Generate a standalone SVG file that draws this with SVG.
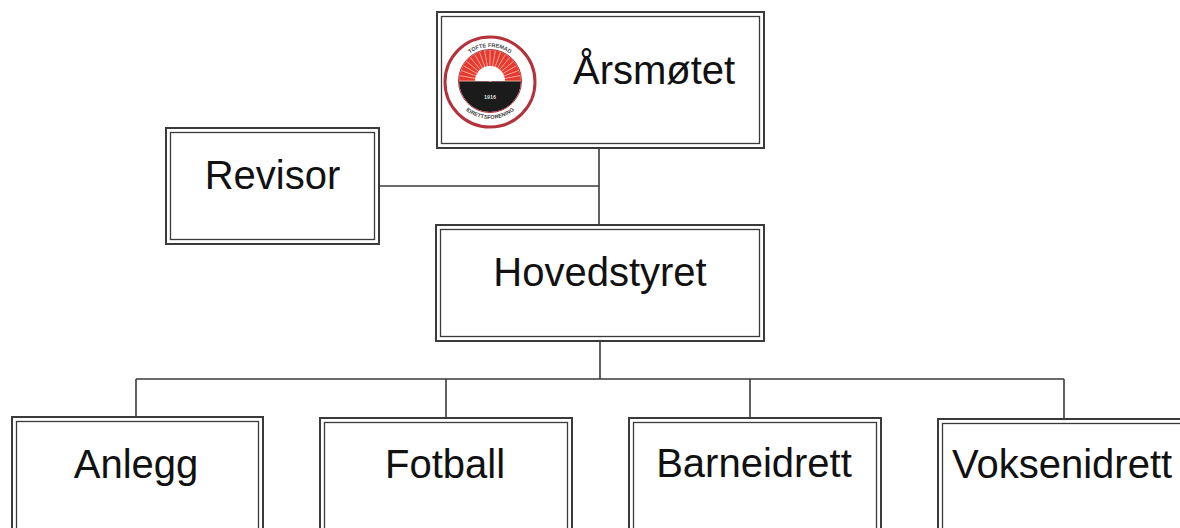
<svg xmlns="http://www.w3.org/2000/svg" width="1180" height="528" viewBox="0 0 1180 528">
<style>
.outer{fill:#fff;stroke:#3a3a3a;stroke-width:2}
.inner{fill:none;stroke:#3a3a3a;stroke-width:1.3}
.lbl{font-family:"Liberation Sans",Arial,sans-serif;font-size:40px;fill:#111}
.conn{fill:none;stroke:#3a3a3a;stroke-width:1.6}
.tiny{font-family:"Liberation Sans",Arial,sans-serif;font-size:5.5px;font-weight:bold;fill:#444}
</style>
<defs>
<clipPath id="disc"><circle cx="490" cy="81" r="31"/></clipPath>
<path id="arcTop" d="M456,81 A34,34 0 0 1 524,81"/>
<path id="arcBot" d="M452,81 A38,38 0 0 0 528,81"/>
</defs>
<rect width="1180" height="528" fill="#fff"/>
<g id="connectors">
<path class="conn" d="M599,148 V225"/>
<path class="conn" d="M379,186 H599"/>
<path class="conn" d="M600,341 V379"/>
<path class="conn" d="M136,379 H1064"/>
<path class="conn" d="M136,379 V417"/>
<path class="conn" d="M446,379 V418"/>
<path class="conn" d="M750,379 V418"/>
<path class="conn" d="M1064,379 V419"/>
</g>
<g id="node-arsmotet">
<rect class="outer" x="437" y="12" width="327" height="136"/>
<rect class="inner" x="441.5" y="16.5" width="318" height="127"/>
<g id="logo">
<circle cx="490" cy="82" r="45" fill="#fff" stroke="#b3323c" stroke-width="3"/>
<text class="tiny"><textPath href="#arcTop" startOffset="50%" text-anchor="middle">TOFTE FREMAD</textPath></text>
<text class="tiny"><textPath href="#arcBot" startOffset="50%" text-anchor="middle">IDRETTSFORENING</textPath></text>
<g clip-path="url(#disc)">
<rect x="455" y="48" width="70" height="33" fill="#e63a2e"/>
<rect x="455" y="81" width="70" height="34" fill="#1b1b1b"/>
<g stroke="#f6b0a8" stroke-width="0.9">
<path d="M490,81 L459,81 M490,81 L459.5,75.6 M490,81 L460.9,70.4 M490,81 L463.2,65.5 M490,81 L466.3,61.1 M490,81 L470.1,57.3 M490,81 L474.5,54.2 M490,81 L479.4,51.9 M490,81 L484.6,50.5 M490,81 L490,50 M490,81 L495.4,50.5 M490,81 L500.6,51.9 M490,81 L505.5,54.2 M490,81 L509.9,57.3 M490,81 L513.7,61.1 M490,81 L516.8,65.5 M490,81 L519.1,70.4 M490,81 L520.5,75.6 M490,81 L521,81"/>
</g>
<path d="M475,81 A15,15 0 0 1 505,81 Z" fill="#fff"/>
</g>
<circle cx="490" cy="81" r="31.5" fill="none" stroke="#b3323c" stroke-width="1"/>
<text x="490" y="99" text-anchor="middle" style="font-family:'Liberation Sans',Arial,sans-serif;font-size:5.5px;font-weight:bold;fill:#ddd">1916</text>
</g>
<text class="lbl" x="573" y="84">Årsmøtet</text>
</g>
<g id="node-revisor">
<rect class="outer" x="166" y="128" width="213" height="116"/>
<rect class="inner" x="170.5" y="132.5" width="204" height="107"/>
<text class="lbl" x="272.5" y="189" text-anchor="middle">Revisor</text>
</g>
<g id="node-hovedstyret">
<rect class="outer" x="436" y="225" width="328" height="116"/>
<rect class="inner" x="440.5" y="229.5" width="319" height="107"/>
<text class="lbl" x="600" y="286" text-anchor="middle">Hovedstyret</text>
</g>
<g id="node-anlegg">
<rect class="outer" x="12" y="417" width="251" height="140"/>
<rect class="inner" x="16.5" y="421.5" width="242" height="131"/>
<text class="lbl" x="136" y="478" text-anchor="middle">Anlegg</text>
</g>
<g id="node-fotball">
<rect class="outer" x="320" y="418" width="252" height="140"/>
<rect class="inner" x="324.5" y="422.5" width="243" height="131"/>
<text class="lbl" x="445" y="478" text-anchor="middle">Fotball</text>
</g>
<g id="node-barneidrett">
<rect class="outer" x="629" y="418" width="252" height="140"/>
<rect class="inner" x="633.5" y="422.5" width="243" height="131"/>
<text class="lbl" x="754" y="477" text-anchor="middle">Barneidrett</text>
</g>
<g id="node-voksenidrett">
<rect class="outer" x="938" y="419" width="252" height="140"/>
<rect class="inner" x="942.5" y="423.5" width="243" height="131"/>
<text class="lbl" x="952" y="478">Voksenidrett</text>
</g>
</svg>
